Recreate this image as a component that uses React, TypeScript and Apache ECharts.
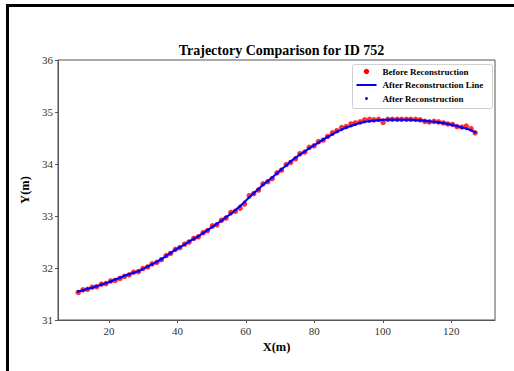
import React, { useEffect, useRef } from "react";
import * as echarts from "echarts";

const TITLE = "Trajectory Comparison for ID 752";
const X_TICKS = [20, 40, 60, 80, 100, 120];

const xValues = [
  11.0, 12.4, 13.7, 15.1, 16.4, 17.8, 19.1, 20.5, 21.8, 23.2,
  24.5, 25.9, 27.2, 28.6, 29.9, 31.3, 32.6, 34.0, 35.3, 36.7,
  38.0, 39.4, 40.7, 42.1, 43.4, 44.8, 46.1, 47.5, 48.8, 50.2,
  51.5, 52.9, 54.2, 55.6, 56.9, 58.3, 59.6, 61.0, 62.3, 63.7,
  65.0, 66.4, 67.7, 69.1, 70.4, 71.8, 73.1, 74.5, 75.8, 77.2,
  78.5, 79.9, 81.2, 82.6, 83.9, 85.3, 86.6, 88.0, 89.3, 90.7,
  92.0, 93.4, 94.7, 96.1, 97.4, 98.8, 100.1, 101.5, 102.8, 104.2,
  105.5, 106.9, 108.2, 109.6, 110.9, 112.3, 113.6, 115.0, 116.3, 117.7,
  119.0, 120.4, 121.7, 123.1, 124.4, 125.8, 127.0,
];

const beforeY = [
  31.53, 31.58, 31.59, 31.63, 31.64, 31.69, 31.70, 31.75, 31.76, 31.80,
  31.84, 31.87, 31.92, 31.93, 31.99, 32.02, 32.08, 32.11, 32.16, 32.24,
  32.28, 32.36, 32.39, 32.46, 32.50, 32.57, 32.60, 32.68, 32.72, 32.81,
  32.83, 32.92, 32.96, 33.07, 33.09, 33.15, 33.23, 33.39, 33.43, 33.50,
  33.62, 33.66, 33.72, 33.83, 33.88, 33.99, 34.03, 34.10, 34.20, 34.23,
  34.32, 34.35, 34.43, 34.46, 34.53, 34.60, 34.64, 34.70, 34.72, 34.77,
  34.79, 34.81, 34.85, 34.86, 34.85, 34.86, 34.80, 34.86, 34.86, 34.86,
  34.86, 34.86, 34.86, 34.86, 34.85, 34.82, 34.81, 34.82, 34.81, 34.79,
  34.77, 34.76, 34.72, 34.71, 34.73, 34.68, 34.60,
];

const afterY = [
  31.55, 31.57, 31.60, 31.62, 31.65, 31.68, 31.71, 31.74, 31.78, 31.81,
  31.85, 31.88, 31.91, 31.94, 31.98, 32.03, 32.07, 32.12, 32.17, 32.23,
  32.29, 32.35, 32.40, 32.45, 32.51, 32.56, 32.61, 32.67, 32.73, 32.79,
  32.85, 32.91, 32.98, 33.04, 33.11, 33.19, 33.27, 33.36, 33.44, 33.52,
  33.60, 33.67, 33.74, 33.82, 33.90, 33.97, 34.05, 34.12, 34.18, 34.24,
  34.30, 34.36, 34.41, 34.47, 34.52, 34.57, 34.62, 34.66, 34.70, 34.73,
  34.76, 34.79, 34.81, 34.82, 34.83, 34.84, 34.85, 34.85, 34.85, 34.85,
  34.85, 34.85, 34.85, 34.84, 34.84, 34.83, 34.82, 34.81, 34.80, 34.79,
  34.77, 34.75, 34.73, 34.70, 34.68, 34.65, 34.61,
];

const SERIF = "'Liberation Serif', 'DejaVu Serif', serif";

export default function App() {
  const ref = useRef<HTMLDivElement>(null);

  useEffect(() => {
    document.body.style.margin = "0";
    if (!ref.current) return;
    const chart = echarts.init(ref.current, undefined, { renderer: "svg" });
    const before = xValues.map((x, i) => [x, beforeY[i]]);
    const after = xValues.map((x, i) => [x, afterY[i]]);
    const legendText = {
      fontFamily: SERIF,
      fontWeight: "bold",
      fontSize: 9,
      fill: "#000",
      verticalAlign: "middle",
      align: "left",
    };
    chart.setOption({
      animation: false,
      backgroundColor: "#fff",
      title: {
        text: TITLE,
        left: 276.5,
        textAlign: "center",
        top: 38,
        textStyle: { fontFamily: SERIF, fontWeight: "bold", fontSize: 14, color: "#000" },
      },
      grid: {
        left: 58,
        right: 19,
        top: 60,
        bottom: 51,
        show: true,
        borderColor: "#555",
        borderWidth: 1,
        backgroundColor: "transparent",
      },
      xAxis: {
        type: "value",
        min: 5.1,
        max: 132.8,
        name: "X(m)",
        nameLocation: "middle",
        nameGap: 15,
        nameTextStyle: { fontFamily: SERIF, fontWeight: "bold", fontSize: 12.5, color: "#000" },
        splitLine: { show: false },
        axisLine: { show: true, lineStyle: { color: "#555", width: 1 } },
        axisTick: { show: true, length: 3, customValues: X_TICKS, lineStyle: { color: "#555" } },
        axisLabel: {
          customValues: X_TICKS,
          fontFamily: SERIF,
          fontSize: 11,
          color: "#333",
          margin: 5,
        },
      },
      yAxis: {
        type: "value",
        min: 31,
        max: 36,
        interval: 1,
        name: "Y(m)",
        nameLocation: "middle",
        nameGap: 18,
        nameTextStyle: { fontFamily: SERIF, fontWeight: "bold", fontSize: 12.5, color: "#000" },
        splitLine: { show: false },
        axisLine: { show: true, lineStyle: { color: "#555", width: 1 } },
        axisTick: { show: true, length: 3, lineStyle: { color: "#555" } },
        axisLabel: { fontFamily: SERIF, fontSize: 11, color: "#333", margin: 5 },
      },
      series: [
        {
          name: "Before Reconstruction",
          type: "scatter",
          data: before,
          symbol: "circle",
          symbolSize: 5.5,
          itemStyle: { color: "#ff0000" },
          z: 2,
        },
        {
          name: "After Reconstruction Line",
          type: "line",
          data: after,
          showSymbol: false,
          symbol: "none",
          lineStyle: { color: "#0000ff", width: 2 },
          z: 3,
        },
        {
          name: "After Reconstruction",
          type: "scatter",
          data: after,
          symbol: "circle",
          symbolSize: 3,
          itemStyle: { color: "#0000ff" },
          z: 4,
        },
      ],
      graphic: [
        {
          type: "rect",
          shape: { x: 7.5, y: 5.5, width: 600, height: 500 },
          style: { fill: "none", stroke: "#000", lineWidth: 3 },
          silent: true,
        },
        {
          type: "group",
          left: 352,
          top: 64,
          children: [
            {
              type: "rect",
              shape: { x: 0, y: 0, width: 140, height: 44, r: 2 },
              style: { fill: "rgba(255,255,255,0.8)", stroke: "#d0d0d0", lineWidth: 1 },
            },
            { type: "circle", shape: { cx: 14, cy: 7, r: 2.7 }, style: { fill: "#ff0000" } },
            { type: "text", x: 30, y: 7, style: { text: "Before Reconstruction", ...legendText } },
            {
              type: "line",
              shape: { x1: 4, y1: 20.5, x2: 24, y2: 20.5 },
              style: { stroke: "#0000ff", lineWidth: 2 },
            },
            { type: "text", x: 30, y: 20.5, style: { text: "After Reconstruction Line", ...legendText } },
            { type: "circle", shape: { cx: 14, cy: 34, r: 1.5 }, style: { fill: "#0000ff" } },
            { type: "text", x: 30, y: 34, style: { text: "After Reconstruction", ...legendText } },
          ],
        },
      ],
    });
    return () => chart.dispose();
  }, []);

  return <div ref={ref} style={{ width: 514, height: 371 }} />;
}
